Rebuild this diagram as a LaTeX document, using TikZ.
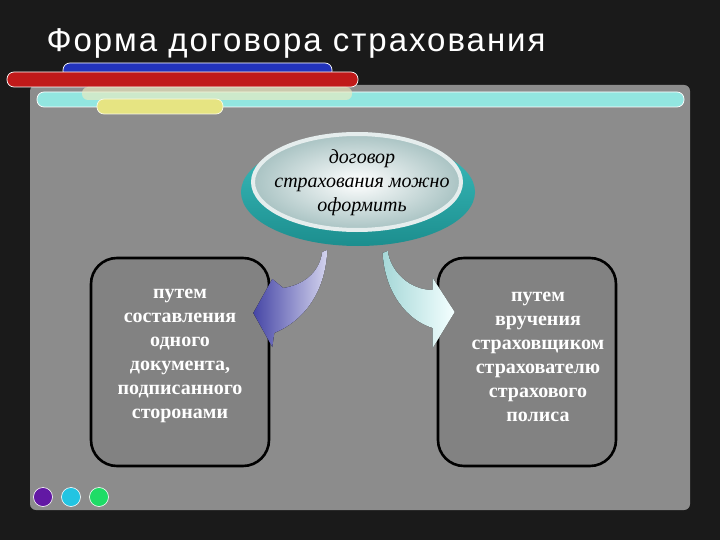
\documentclass[tikz,border=0pt]{standalone}
\usepackage{fontspec}
\setmainfont{Liberation Serif}
\newfontfamily\titlefont[LetterSpace=6]{Liberation Sans}
\usetikzlibrary{shapes.geometric}
\usetikzlibrary{calc}

\definecolor{bgdark}{HTML}{1A1A1A}
\definecolor{panelgray}{HTML}{8C8C8C}
\definecolor{boxgray}{HTML}{828282}
\definecolor{barblue}{HTML}{2233BB}
\definecolor{barred}{HTML}{C01A1A}
\definecolor{barcyan}{HTML}{92E6E0}
\definecolor{barpale}{HTML}{EDEBC0}
\definecolor{baryellow}{HTML}{E6E482}
\definecolor{tealdark}{HTML}{1C8E8E}
\definecolor{teallight}{HTML}{3CBFBF}
\definecolor{ovalrim}{HTML}{A9C3C3}
\definecolor{lilacdark}{HTML}{4646A6}
\definecolor{lilaclight}{HTML}{D4D4EE}
\definecolor{icedark}{HTML}{A6D8D8}
\definecolor{icelight}{HTML}{F4FFFF}
\definecolor{dotpurple}{HTML}{6218A4}
\definecolor{dotcyan}{HTML}{22C4E2}
\definecolor{dotgreen}{HTML}{1EDC66}

\begin{document}
\begin{tikzpicture}[x=1pt, y=-1pt,
    bar/.style={rounded corners=7pt, draw=white, line width=0.7pt},
    way/.style={draw=black, line width=2.6pt, rounded corners=26pt, fill=boxgray,
        minimum width=178pt, minimum height=208pt},
    waytext/.style={text=white, align=center,
        font=\bfseries\fontsize{20}{24}\selectfont},
    dot/.style={circle, draw=white, line width=0.6pt, minimum size=19pt, inner sep=0pt}]
    \useasboundingbox (0,0) rectangle (720,540);
    % backdrop and panel
    \fill[bgdark] (0,0) rectangle (720,540);
    \fill[panelgray, rounded corners=6pt] (30,85) rectangle (690,510);
    \node[white, anchor=base west, font=\titlefont\fontsize{33}{36}\selectfont]
        (title) at (43,52) {Форма договора страхования};
    % bars on top
    \filldraw[bar, fill=barblue] (63,63) rectangle (332,78);
    \filldraw[bar, fill=barred] (7,72) rectangle (358,87);
    \filldraw[bar, fill=barcyan] (37,92) rectangle (684,107);
    \fill[barpale, opacity=0.65, rounded corners=6pt] (82,87) rectangle (352,100);
    \filldraw[bar, draw=white!80!baryellow, fill=baryellow] (97,99) rectangle (223,114);
    % oval
    \node[ellipse, top color=teallight, bottom color=tealdark, minimum width=234pt,
        minimum height=108pt] (ovalbase) at (358,192) {};
    \node[ellipse, inner color=white, outer color=ovalrim, draw=white!70!ovalrim,
        line width=4pt, minimum width=208pt, minimum height=96pt] (oval) at (357,182) {};
    \node[align=center, font=\itshape\fontsize{20}{24}\selectfont] (ovaltext) at (362,183)
        {договор\\страхования можно\\оформить};
    % two ways
    \node[way] (lbox) at (180,362) {};
    \node[way] (rbox) at (527,362) {};
    \node[waytext] (ltext) at (180,356)
        {путем\\составления\\одного\\документа,\\подписанного\\сторонами};
    \node[waytext] (rtext) at (538,357)
        {путем\\вручения\\страховщиком\\страхователю\\страхового\\полиса};
    % arrows from oval
    \coordinate (ltip) at ($(lbox.east)+(-17,-49)$);
    \coordinate (rtip) at ($(rbox.west)+(18,-50)$);
    \fill[shift={(ltip)}, left color=lilacdark, right color=lilaclight]
        (69,-61) .. controls (66,-40) and (50,-28) .. (30,-25) -- (19,-34) -- (0,0)
        -- (19,34) -- (21,20) .. controls (50,8) and (72,-20) .. (74,-63) -- cycle;
    \fill[shift={(rtip)}, left color=icedark, right color=icelight]
        (-72,-59) .. controls (-70,-20) and (-48,8) .. (-22,16) -- (-22,36) -- (0,0)
        -- (-22,-34) -- (-22,-22) .. controls (-45,-22) and (-64,-40) .. (-67,-61) -- cycle;
    % dots
    \node[dot, fill=dotpurple] (d1) at (43,497) {};
    \node[dot, fill=dotcyan] (d2) at (71,497) {};
    \node[dot, fill=dotgreen] (d3) at (99,497) {};
\end{tikzpicture}
\end{document}
